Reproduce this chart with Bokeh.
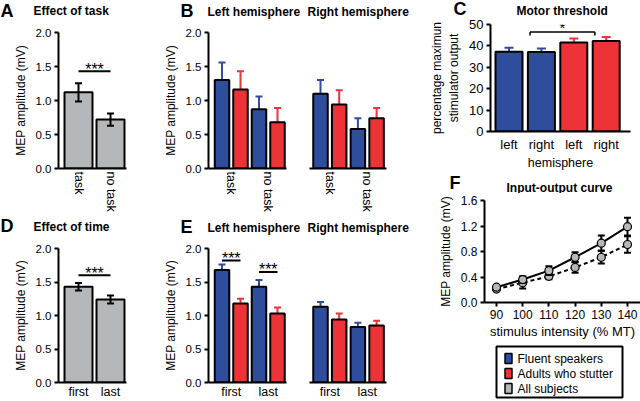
from bokeh.plotting import figure
from bokeh.layouts import row, column
from bokeh.models import Range1d, FixedTicker, PrintfTickFormatter
from bokeh.embed import file_html
from bokeh.resources import INLINE
from bokeh.core.properties import value

# ---------------- data ----------------
task_cats = ["task", "no task"]
task_mean = [1.12, 0.72]
task_err = [0.135, 0.09]

time_cats = ["first", "last"]
time_mean = [1.43, 1.24]
time_err = [0.055, 0.06]

groups = ["Fluent speakers", "Adults who stutter", "All subjects"]

b_left_fluent = [1.30, 0.87]
b_left_fluent_err = [0.26, 0.19]
b_left_aws = [1.16, 0.68]
b_left_aws_err = [0.27, 0.21]
b_right_fluent = [1.10, 0.58]
b_right_fluent_err = [0.20, 0.16]
b_right_aws = [0.94, 0.74]
b_right_aws_err = [0.21, 0.15]

e_left_fluent = [1.68, 1.43]
e_left_fluent_err = [0.08, 0.10]
e_left_aws = [1.18, 1.03]
e_left_aws_err = [0.07, 0.09]
e_right_fluent = [1.13, 0.83]
e_right_fluent_err = [0.07, 0.06]
e_right_aws = [0.94, 0.85]
e_right_aws_err = [0.09, 0.07]

mt_cats = ["left", "right", "left", "right"]
mt_group = [0, 0, 1, 1]
mt_mean = [37.3, 37.2, 41.6, 42.3]
mt_err = [1.8, 1.6, 1.8, 1.9]

io_intensity = [90, 100, 110, 120, 130, 140]
io_curve1 = [0.24, 0.36, 0.50, 0.71, 0.93, 1.19]
io_curve1_err = [0.03, 0.05, 0.07, 0.08, 0.12, 0.14]
io_curve2 = [0.21, 0.31, 0.41, 0.55, 0.71, 0.91]
io_curve2_err = [0.025, 0.09, 0.045, 0.085, 0.10, 0.13]

sig_task = (0, 1, 1.43, "***")
sig_time = (0, 1, 1.60, "***")
sig_e_left = [(0, 1.82, "***"), (1, 1.65, "***")]   # category index, height
sig_mt = (0, 1, 46.5, "*")                         # group index pair

mep_ticks = [0.0, 0.5, 1.0, 1.5, 2.0]
mt_ticks = [0, 10, 20, 30, 40, 50]
io_yticks = [0.0, 0.4, 0.8, 1.2, 1.6]

# ---------------- style ----------------
FONT = "Liberation Sans"
BLUE = "#2F4D9D"
RED = "#EC3338"
GRAY = "#B5B8BA"
GCOL = [BLUE, RED, GRAY]
LETTER = "18px"
TITLE = "12px"


def blank_fig(W, H):
    p = figure(width=W, height=H, x_range=Range1d(0, W), y_range=Range1d(H, 0),
               x_axis_location=None, y_axis_location=None, min_border=0,
               output_backend="svg", toolbar_location=None)
    p.xgrid.visible = False
    p.ygrid.visible = False
    p.outline_line_color = None
    p.background_fill_color = "white"
    p.border_fill_color = "white"
    return p


def header(W, H, items):
    p = blank_fig(W, H)
    for (x, y, s, size) in items:
        p.text(x=[x], y=[y], text=[s], text_font=value(FONT),
               text_font_size=value(size), text_font_style="bold",
               text_align="left", text_baseline="middle", text_color="black")
    return p


def make_panel(box, frame, x_px, yr, yaxis=True, xaxis=True):
    L, T, W, H = box
    fl, ft, fr, fb = frame
    px0, d0, ppu = x_px
    xr = (d0 + (fl - px0) / ppu, d0 + (fr - px0) / ppu)
    p = figure(width=W, height=H, x_range=Range1d(*xr), y_range=Range1d(*yr),
               min_border_left=fl - L, min_border_right=L + W - fr,
               min_border_top=ft - T, min_border_bottom=T + H - fb,
               x_axis_location="below" if xaxis else None,
               y_axis_location="left" if yaxis else None,
               output_backend="svg", toolbar_location=None)
    p.xgrid.visible = False
    p.ygrid.visible = False
    p.outline_line_color = None
    p.background_fill_color = "white"
    p.border_fill_color = "white"
    return p, ppu


def style_axis(ax, fs="11.5px"):
    ax.axis_line_width = 2
    ax.axis_line_color = "black"
    ax.major_tick_line_width = 2
    ax.major_tick_line_color = "black"
    ax.major_tick_out = 4
    ax.major_tick_in = 0
    ax.minor_tick_line_color = None
    ax.major_label_text_font = FONT
    ax.major_label_text_font_size = fs
    ax.major_label_text_color = "black"
    ax.axis_label_text_font = FONT
    ax.axis_label_text_font_size = "12px"
    ax.axis_label_text_font_style = "normal"
    ax.axis_label_text_color = "black"
    ax.major_label_standoff = 3
    ax.axis_label_standoff = 5


def mep_yaxis(p):
    ax = p.yaxis[0]
    style_axis(ax)
    ax.ticker = FixedTicker(ticks=mep_ticks)
    ax.formatter = PrintfTickFormatter(format="%.1f")
    ax.axis_label = "MEP amplitude (mV)"


def cat_xaxis(p, ticks, labels, fs="12.5px", vertical=False):
    ax = p.xaxis[0]
    style_axis(ax, fs)
    ax.ticker = FixedTicker(ticks=ticks)
    ax.major_label_overrides = {t: l for t, l in zip(ticks, labels)}
    ax.major_tick_line_color = None
    ax.major_tick_out = 0
    ax.major_label_standoff = 3
    if vertical:
        ax.major_label_orientation = "vertical"


def draw_bars(p, xs, tops, errs, width, colors, cap, two_sided):
    hi = [t + e for t, e in zip(tops, errs)]
    lo = [t - e for t, e in zip(tops, errs)] if two_sided else list(tops)
    ecol = ["black"] * len(xs) if two_sided else colors
    if two_sided:
        p.vbar(x=xs, top=tops, bottom=0, width=width, fill_color=colors,
               line_color="black", line_width=2)
    p.segment(x0=xs, y0=lo, x1=xs, y1=hi, line_color=ecol, line_width=2)
    p.segment(x0=[x - cap for x in xs], y0=hi, x1=[x + cap for x in xs], y1=hi,
              line_color=ecol, line_width=2)
    if two_sided:
        p.segment(x0=[x - cap for x in xs], y0=lo, x1=[x + cap for x in xs], y1=lo,
                  line_color=ecol, line_width=2)
    else:
        p.vbar(x=xs, top=tops, bottom=0, width=width, fill_color=colors,
               line_color="black", line_width=2)


def sig_line(p, x0, x1, h, s, fs="16px", off=-2):
    p.segment(x0=[x0], y0=[h], x1=[x1], y1=[h], line_color="black", line_width=2)
    p.text(x=[(x0 + x1) / 2], y=[h], text=[s], text_font=value(FONT),
           text_font_size=value(fs), text_align="center",
           text_baseline="middle", y_offset=off, text_color="black")


# ---------------- panels A / D ----------------
def single_panel(box, frame, cats, means, errs, sig, vertical):
    p, ppu = make_panel(box, frame, (78, 0, 32), (0, 2.0))
    xs = list(range(len(cats)))
    draw_bars(p, xs, means, errs, 28 / ppu, [GRAY] * len(xs), 3.5 / ppu, True)
    sig_line(p, sig[0], sig[1], sig[2], sig[3])
    mep_yaxis(p)
    cat_xaxis(p, xs, cats, vertical=vertical)
    return p


hA = header(160, 20, [(0, 10, "A", LETTER), (33, 10, "Effect of task", TITLE)])
pA = single_panel((0, 20, 160, 195), (58, 32, 126, 168), task_cats, task_mean,
                  task_err, sig_task, True)
hD = header(160, 21, [(0, 10, "D", LETTER), (33, 11, "Effect of time", TITLE)])
pD = single_panel((0, 236, 160, 165), (58, 248, 126, 384), time_cats, time_mean,
                  time_err, sig_time, False)
pD.xaxis[0].major_label_standoff = 2


# ---------------- panels B / E ----------------
def grouped_panel(box, frame, x_px, cats, fl, fl_e, aw, aw_e, with_y, vertical, sigs=()):
    p, ppu = make_panel(box, frame, x_px, (0, 2.0), yaxis=with_y)
    xs, tops, errs, cols = [], [], [], []
    for i in range(len(cats)):
        for g, (m, e) in enumerate(((fl, fl_e), (aw, aw_e))):
            xs.append(4 * i + 2 * g - 1)
            tops.append(m[i])
            errs.append(e[i])
            cols.append(GCOL[g])
    draw_bars(p, xs, tops, errs, 14.5 / ppu, cols, 3.5 / ppu, False)
    for (ci, h, s) in sigs:
        sig_line(p, 4 * ci - 1, 4 * ci + 1, h, s)
    if with_y:
        mep_yaxis(p)
    cat_xaxis(p, [4 * i for i in range(len(cats))], cats, vertical=vertical)
    if not vertical:
        p.xaxis[0].major_label_standoff = 2
    return p


hB = header(250, 20, [(20, 10, "B", LETTER), (47, 11, "Left hemisphere", TITLE),
                      (147, 11, "Right hemisphere", TITLE)])
pBL = grouped_panel((160, 20, 130, 195), (208, 32, 286, 168), (221.5, -1, 9.25),
                    task_cats, b_left_fluent, b_left_fluent_err, b_left_aws,
                    b_left_aws_err, True, True)
pBR = grouped_panel((290, 20, 120, 195), (309, 32, 386, 168), (320, -1, 9.35),
                    task_cats, b_right_fluent, b_right_fluent_err, b_right_aws,
                    b_right_aws_err, False, True)
hE = header(250, 21, [(20, 11, "E", LETTER), (47, 12, "Left hemisphere", TITLE),
                      (147, 12, "Right hemisphere", TITLE)])
pEL = grouped_panel((160, 236, 130, 165), (208, 248, 286, 384), (221.5, -1, 9.25),
                    time_cats, e_left_fluent, e_left_fluent_err, e_left_aws,
                    e_left_aws_err, True, False, sigs=sig_e_left)
pER = grouped_panel((290, 236, 120, 165), (309, 248, 386, 384), (320, -1, 9.35),
                    time_cats, e_right_fluent, e_right_fluent_err, e_right_aws,
                    e_right_aws_err, False, False)

# ---------------- panel C ----------------
hC = header(230, 17, [(43, 8, "C", LETTER), (106, 10, "Motor threshold", TITLE)])
pC, ppuC = make_panel((410, 17, 230, 155), (490, 24, 630, 133), (508.5, 0, 32.4), (0, 50))
xsC = list(range(len(mt_cats)))
draw_bars(pC, xsC, mt_mean, mt_err, 27 / ppuC, [GCOL[g] for g in mt_group],
          4.5 / ppuC, False)
gc = [sum(x for x, g in zip(xsC, mt_group) if g == k) / mt_group.count(k) for k in (0, 1)]
bx0, bx1 = gc[sig_mt[0]] + 0.15, gc[sig_mt[1]] + 0.15
pC.segment(x0=[bx0, bx0, bx1], y0=[sig_mt[2], sig_mt[2] - 1.6, sig_mt[2] - 1.6],
           x1=[bx1, bx0, bx1], y1=[sig_mt[2], sig_mt[2], sig_mt[2]],
           line_color="black", line_width=1.5)
pC.text(x=[(bx0 + bx1) / 2], y=[sig_mt[2]], text=[sig_mt[3]], text_font=value(FONT),
        text_font_size=value("15px"), text_align="center", text_baseline="middle",
        y_offset=-4, text_color="black")
axC = pC.yaxis[0]
style_axis(axC, "13px")
axC.ticker = FixedTicker(ticks=mt_ticks)
axC.axis_label = "percentage maximun\nstimulator output"
cat_xaxis(pC, xsC, mt_cats, fs="13px")
pC.xaxis[0].major_label_standoff = 5
pC.xaxis[0].axis_label = "hemisphere"
pC.xaxis[0].axis_label_text_font_size = "12.5px"
pC.xaxis[0].axis_label_standoff = 1

# ---------------- panel F ----------------
hF = header(230, 21, [(39, 10, "F", LETTER), (96, 15, "Input-output curve", TITLE)])
pF, ppuF = make_panel((410, 193, 230, 149), (484, 200, 640, 302), (496, 90, 2.62), (0, 1.6))
capF = 3.5 / ppuF
for ys, es, dash in ((io_curve2, io_curve2_err, "4 3"), (io_curve1, io_curve1_err, "solid")):
    lo = [y - e for y, e in zip(ys, es)]
    hi = [y + e for y, e in zip(ys, es)]
    pF.segment(x0=io_intensity, y0=lo, x1=io_intensity, y1=hi, line_color="black", line_width=2)
    pF.segment(x0=[x - capF for x in io_intensity], y0=hi, x1=[x + capF for x in io_intensity],
               y1=hi, line_color="black", line_width=2)
    pF.segment(x0=[x - capF for x in io_intensity], y0=lo, x1=[x + capF for x in io_intensity],
               y1=lo, line_color="black", line_width=2)
    pF.line(io_intensity, ys, line_color="black", line_width=2, line_dash=dash)
    pF.scatter(io_intensity, ys, marker="circle", size=8, fill_color=GRAY,
               line_color="black", line_width=1.2)
axFy = pF.yaxis[0]
style_axis(axFy, "12px")
axFy.ticker = FixedTicker(ticks=io_yticks)
axFy.formatter = PrintfTickFormatter(format="%.1f")
axFy.axis_label = "MEP amplitude (mV)"
axFx = pF.xaxis[0]
style_axis(axFx, "12px")
axFx.ticker = FixedTicker(ticks=io_intensity)
axFx.axis_label = "stimulus intensity (% MT)"
axFx.axis_label_text_font_size = "13px"
axFx.axis_label_standoff = 2

# ---------------- legend (key box) ----------------
pL = blank_fig(230, 59)
pL.quad(left=[86], right=[212], top=[4], bottom=[55], fill_color="white",
        line_color="black", line_width=2)
rows_y = [16 + 15 * i for i in range(len(groups))]
pL.rect(x=[98] * len(groups), y=rows_y, width=7, height=10, fill_color=GCOL,
        line_color="black", line_width=1.5)
pL.text(x=[107] * len(groups), y=rows_y, text=groups, text_font=value(FONT),
        text_font_size=value("12px"), text_align="left", text_baseline="middle",
        text_color="black")

# each figure wrapped in its own row so that frames are not aligned across a column
layout = row(column(row(hA), row(pA), row(hD), row(pD)),
             column(row(hB), row(pBL, pBR), row(hE), row(pEL, pER)),
             column(row(hC), row(pC), row(hF), row(pF), row(pL)))
open("out.html", "w").write(file_html(layout, INLINE))
